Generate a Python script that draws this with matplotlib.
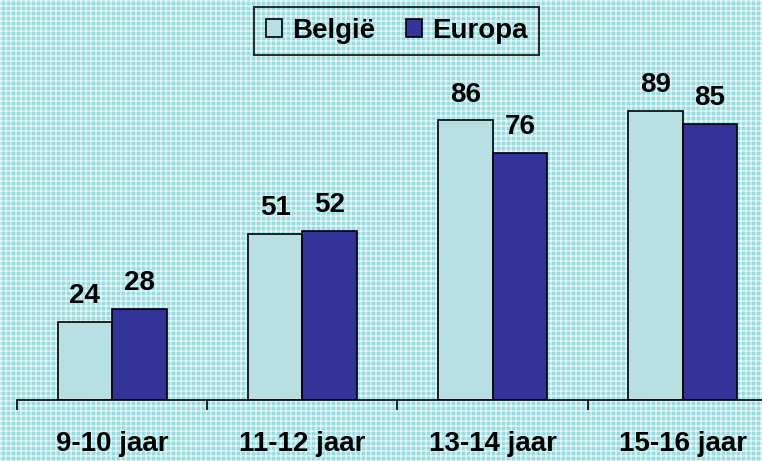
import matplotlib
matplotlib.use("Agg")
import matplotlib.pyplot as plt
import numpy as np

categories = ["9-10 jaar", "11-12 jaar", "13-14 jaar", "15-16 jaar"]
belgie = [24, 51, 86, 89]
europa = [28, 52, 76, 85]
series_names = ["België", "Europa"]

plt.rcParams['font.family'] = ['Liberation Sans', 'DejaVu Sans']

W, H = 762, 461
fig = plt.figure(figsize=(W / 100, H / 100), dpi=100)

# gingham-like background
yy, xx = np.mgrid[0:H, 0:W]
base = np.array([0.60, 0.86, 0.88])
light = np.array([0.78, 0.93, 0.94])
white = np.array([0.92, 0.98, 0.98])
vx = (xx % 5) < 2
vy = (yy % 5) < 2
img = np.empty((H, W, 3))
img[:] = base
img[vx ^ vy] = light
img[vx & vy] = white
fig.figimage(img, 0, 0, zorder=-10)
fig.patch.set_alpha(0)

left_px, right_px = 17, 778
base_px, top_px = 399.5, 60
ax = fig.add_axes([left_px / W, (H - base_px) / H, (right_px - left_px) / W, (base_px - top_px) / H])
ax.patch.set_alpha(0)

x = np.arange(len(categories))
bw = 0.286
b1 = ax.bar(x - bw / 2, belgie, bw, color="#b8e0e2", edgecolor="black", linewidth=1.2, label=series_names[0])
b2 = ax.bar(x + bw / 2, europa, bw, color="#333399", edgecolor="black", linewidth=1.2, label=series_names[1])

for bars in (b1, b2):
    ax.bar_label(bars, padding=9, fontsize=20, fontweight="bold")

ax.set_xlim(-0.5, len(categories) - 0.5)
ax.set_ylim(0, (base_px - top_px) / 3.247)
ax.set_xticks(np.arange(len(categories) + 1) - 0.5, minor=False)
ax.set_xticklabels([])
ax.set_xticks(x, minor=True)
ax.set_xticklabels(categories, minor=True, fontsize=20, fontweight="bold")
ax.tick_params(axis="x", which="major", length=7, width=1.2, direction="out")
ax.tick_params(axis="x", which="minor", length=0, pad=23)
ax.set_yticks([])
for s in ["top", "right", "left"]:
    ax.spines[s].set_visible(False)
ax.spines["bottom"].set_linewidth(1.2)

leg = fig.legend(handles=[b1, b2], labels=series_names, loc="upper center",
                 bbox_to_anchor=(396.5 / W, 1 - 7 / H), ncol=2, borderaxespad=0,
                 prop={"size": 20, "weight": "bold"}, frameon=True, fancybox=False,
                 edgecolor="black", facecolor="none", handlelength=0.6, handleheight=0.6,
                 handletextpad=0.35, columnspacing=1.1, borderpad=0.4)
leg.get_frame().set_linewidth(1.5)

fig.savefig("out.png", dpi=100)
